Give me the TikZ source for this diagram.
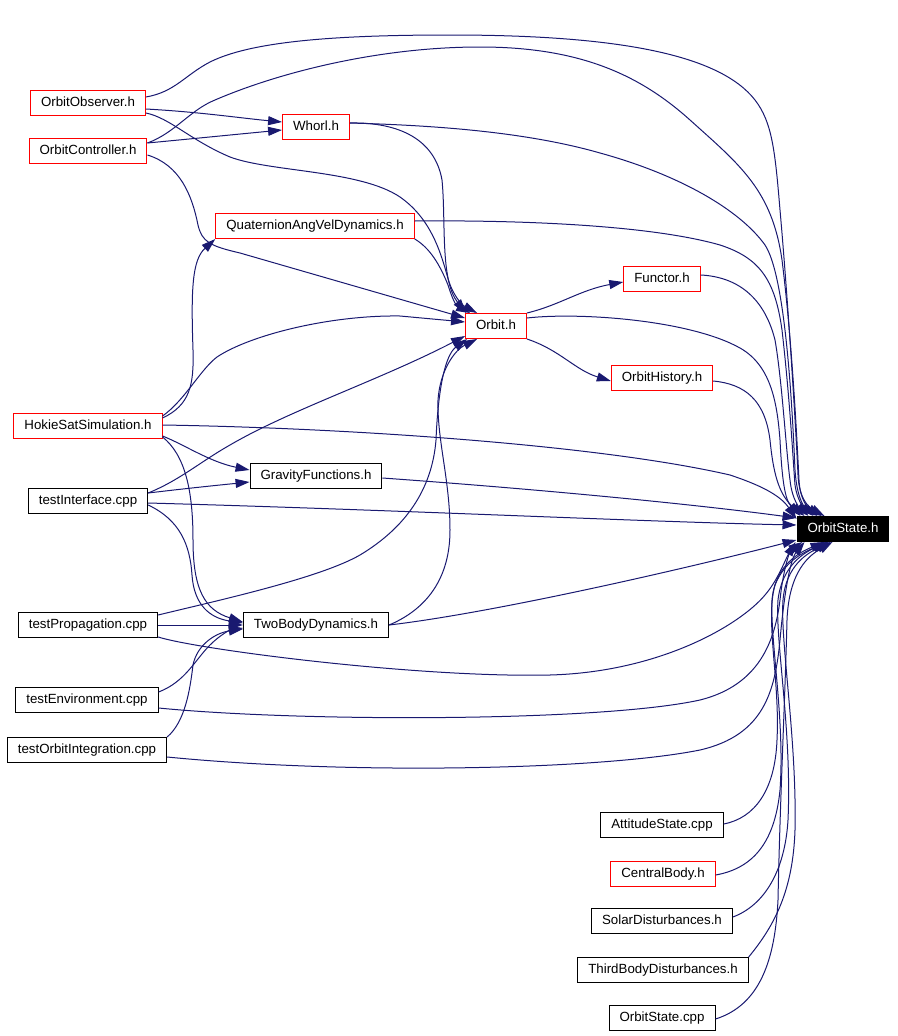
\documentclass[tikz,border=0pt]{standalone}
\usepackage{fontspec}
\setmainfont{Liberation Sans}
\usetikzlibrary{arrows.meta}
\definecolor{edgeblue}{HTML}{191970}
\tikzset{
  file/.style={draw=black, line width=1pt, fill=white, inner xsep=10.5pt, inner ysep=0pt,
    minimum height=25pt, text height=9.5pt, text depth=2.5pt,
    font=\fontsize{13.3}{16}\selectfont},
  redfile/.style={file, draw=red},
  rootfile/.style={file, fill=black, text=white},
  dep/.style={draw=edgeblue, line width=1pt, -{Triangle[length=14pt,width=9pt]}}
}
\begin{document}
\begin{tikzpicture}[x=1pt,y=-1pt]
    \useasboundingbox (0,0) rectangle (897,1036);
    % files
    \node[redfile] (obs) at (88,103) {OrbitObserver.h};
    \node[redfile] (ctrl) at (88,151) {OrbitController.h};
    \node[redfile] (whorl) at (316,127) {Whorl.h};
    \node[redfile] (quat) at (315,226) {QuaternionAngVelDynamics.h};
    \node[redfile] (functor) at (662,279) {Functor.h};
    \node[redfile] (orbit) at (496,326) {Orbit.h};
    \node[redfile] (history) at (662,378) {OrbitHistory.h};
    \node[redfile] (hokie) at (88,426) {HokieSatSimulation.h};
    \node[file] (gravity) at (316,476) {GravityFunctions.h};
    \node[file] (interface) at (88,501) {testInterface.cpp};
    \node[rootfile] (state) at (843,529) {OrbitState.h};
    \node[file] (propagation) at (88,625) {testPropagation.cpp};
    \node[file] (twobody) at (316,625) {TwoBodyDynamics.h};
    \node[file] (environment) at (87,700) {testEnvironment.cpp};
    \node[file] (orbitint) at (87,750) {testOrbitIntegration.cpp};
    \node[file] (attitude) at (662,825) {AttitudeState.cpp};
    \node[redfile] (central) at (663,874) {CentralBody.h};
    \node[file] (solar) at (662,921) {SolarDisturbances.h};
    \node[file] (third) at (663,970) {ThirdBodyDisturbances.h};
    \node[file] (statecpp) at (662,1018) {OrbitState.cpp};

    % top group into OrbitState.h
    \draw[dep] ([yshift=6pt]obs.east) .. controls (175,92) and (185,75) .. (210,62)
       .. controls (250,42) and (330,35) .. (450,35) .. controls (620,35) and (720,55) .. (755,100)
       .. controls (772,122) and (775,150) .. (780,210) .. controls (788,300) and (796,430) .. (798,475)
       .. controls (799,500) and (810,508) .. ([xshift=28pt]state.north west);
    \draw[dep] ([yshift=8pt]ctrl.east) .. controls (175,133) and (190,110) .. (215,100)
       .. controls (280,72) and (380,47) .. (480,47) .. controls (580,47) and (640,75) .. (690,120)
       .. controls (740,165) and (772,190) .. (782,260) .. controls (792,340) and (797,440) .. (799,480)
       .. controls (800,500) and (808,508) .. ([xshift=25pt]state.north west);
    \draw[dep] ([yshift=4pt]whorl.east) .. controls (420,125) and (520,130) .. (600,153)
       .. controls (680,175) and (740,210) .. (765,245) .. controls (785,275) and (792,400) .. (795,470)
       .. controls (797,500) and (805,508) .. ([xshift=21pt]state.north west);
    \draw[dep] ([yshift=5pt]quat.east) .. controls (520,220) and (650,225) .. (720,245)
       .. controls (760,258) and (775,280) .. (782,330) .. controls (790,400) and (793,460) .. (795,485)
       .. controls (797,500) and (804,508) .. ([xshift=17pt]state.north west);
    \draw[dep] ([yshift=4pt]functor.east) .. controls (740,277) and (765,300) .. (775,340)
       .. controls (782,380) and (786,450) .. (790,480) .. controls (792,500) and (800,508) .. ([xshift=12pt]state.north west);
    \draw[dep] ([yshift=8pt]orbit.east) .. controls (580,312) and (690,320) .. (740,348)
       .. controls (770,365) and (777,400) .. (780,440) .. controls (782,480) and (785,500) .. ([xshift=4pt]state.north west);
    \draw[dep] ([yshift=-3pt]history.east) .. controls (745,384) and (765,400) .. (770,440)
       .. controls (773,470) and (778,495) .. ([xshift=8pt]state.north west);

    % OrbitObserver.h, OrbitController.h
    \draw[dep] ([yshift=-6pt]obs.east) .. controls (200,112) and (240,118) .. ([yshift=5pt]whorl.west);
    \draw[dep] ([yshift=8pt]ctrl.east) .. controls (200,138) and (240,134) .. ([yshift=-3pt]whorl.west);
    \draw[dep] ([yshift=-10pt]obs.east) .. controls (170,118) and (190,140) .. (230,157)
       .. controls (270,172) and (360,170) .. (400,197) .. controls (430,218) and (440,250) .. (447,275)
       .. controls (452,295) and (462,305) .. ([xshift=12pt]orbit.north west);
    \draw[dep] ([yshift=-4pt]ctrl.east) .. controls (180,165) and (192,195) .. (198,225)
       .. controls (202,242) and (210,246) .. (240,253) -- ([yshift=8pt]orbit.west);

    % into Orbit.h and out of it
    \draw[dep] ([yshift=4pt]whorl.east) .. controls (400,122) and (435,140) .. (442,180)
       .. controls (446,220) and (440,280) .. ([xshift=1pt]orbit.north west);
    \draw[dep] (quat.south east) .. controls (430,248) and (440,265) .. (448,285)
       .. controls (452,298) and (456,306) .. ([xshift=5pt]orbit.north west);
    \draw[dep] (orbit.north east) .. controls (560,305) and (580,290) .. ([yshift=-3pt]functor.west);
    \draw[dep] (orbit.south east) .. controls (560,350) and (575,370) .. ([yshift=-3pt]history.west);

    % HokieSatSimulation.h
    \draw[dep] ([yshift=10pt]hokie.east) .. controls (185,400) and (200,370) .. (217,357)
       .. controls (250,335) and (330,315) .. (400,316) -- ([yshift=4pt]orbit.west);
    \draw[dep] ([yshift=8pt]hokie.east) .. controls (190,405) and (194,385) .. (193,350)
       .. controls (191,290) and (192,260) .. (quat.south west);
    \draw[dep] ([yshift=1pt]hokie.east) .. controls (350,428) and (600,445) .. (730,475)
       .. controls (760,485) and (780,495) .. ([yshift=-3pt]state.north west);
    \draw[dep] ([yshift=-10pt]hokie.east) .. controls (185,445) and (210,462) .. ([yshift=6pt]gravity.west);
    \draw[dep] ([yshift=-11pt]hokie.east) .. controls (185,455) and (193,490) .. (193,540)
       .. controls (193,590) and (205,610) .. ([yshift=3pt]twobody.west);

    % testInterface.cpp
    \draw[dep] ([yshift=8pt]interface.east) .. controls (190,488) and (220,485) .. ([yshift=-6pt]gravity.west);
    \draw[dep] ([yshift=8pt]interface.east) .. controls (180,480) and (200,462) .. (230,445)
       .. controls (290,410) and (380,380) .. ([yshift=-10pt]orbit.west);
    \draw[dep] ([yshift=-2pt]interface.east) .. controls (400,510) and (650,522) .. ([yshift=4pt]state.west);
    \draw[dep] ([yshift=-4pt]interface.east) .. controls (180,520) and (190,545) .. (192,575)
       .. controls (194,605) and (210,618) .. ([yshift=2pt]twobody.west);
    \draw[dep] ([yshift=-2pt]gravity.east) .. controls (550,490) and (700,505) .. ([yshift=11pt]state.west);

    % testPropagation.cpp, TwoBodyDynamics.h
    \draw[dep] (twobody.east) .. controls (420,612) and (450,585) .. (450,530)
       .. controls (450,480) and (437,440) .. (438,400) .. controls (440,370) and (455,350) .. ([xshift=12pt]orbit.south west);
    \draw[dep] ([yshift=10pt]propagation.east) .. controls (220,600) and (320,578) .. (360,555)
       .. controls (405,528) and (432,490) .. (436,440) .. controls (438,390) and (445,355) .. ([xshift=2pt]orbit.south west);
    \draw[dep] (propagation) -- (twobody);
    \draw[dep] ([yshift=-12pt]propagation.east) .. controls (200,650) and (420,678) .. (550,675)
       .. controls (660,672) and (740,625) .. (765,595) .. controls (778,580) and (785,560) .. ([xshift=-1pt]state.south west);
    \draw[dep] (twobody.east) .. controls (500,612) and (700,565) .. ([yshift=2pt]state.south west);

    % testEnvironment.cpp, testOrbitIntegration.cpp
    \draw[dep] ([yshift=8pt]environment.east) .. controls (185,682) and (195,660) .. (210,645)
       .. controls (220,635) and (230,630) .. ([yshift=-3pt]twobody.west);
    \draw[dep] ([yshift=-8pt]environment.east) .. controls (300,722) and (600,722) .. (700,700)
       .. controls (760,685) and (775,640) .. (780,600) .. controls (783,570) and (790,550) .. ([xshift=6pt]state.south west);
    \draw[dep] (orbitint.north east) .. controls (185,722) and (190,690) .. (193,665)
       .. controls (197,645) and (215,633) .. ([yshift=-4pt]twobody.west);
    \draw[dep] ([yshift=-7pt]orbitint.east) .. controls (350,775) and (600,770) .. (700,750)
       .. controls (765,735) and (775,690) .. (780,640) .. controls (784,595) and (790,560) .. ([xshift=8pt]state.south west);

    % bottom group into OrbitState.h
    \draw[dep] ([yshift=1pt]attitude.east) .. controls (755,818) and (775,790) .. (777,740)
       .. controls (780,680) and (765,620) .. (775,585) .. controls (785,560) and (805,552) .. ([xshift=30pt]state.south west);
    \draw[dep] ([yshift=-1pt]central.east) .. controls (755,868) and (775,840) .. (780,790)
       .. controls (785,720) and (770,640) .. (772,600) .. controls (775,565) and (800,552) .. ([xshift=28pt]state.south west);
    \draw[dep] ([yshift=4pt]solar.east) .. controls (765,905) and (785,870) .. (788,820)
       .. controls (792,730) and (775,640) .. (778,600) .. controls (782,565) and (805,552) .. ([xshift=32pt]state.south west);
    \draw[dep] (third.north east) .. controls (775,925) and (793,890) .. (795,830)
       .. controls (797,740) and (780,640) .. (783,600) .. controls (786,565) and (808,553) .. ([xshift=34pt]state.south west);
    \draw[dep] ([yshift=-1pt]statecpp.east) .. controls (760,1005) and (775,960) .. (778,900)
       .. controls (780,800) and (785,700) .. (787,620) .. controls (789,570) and (810,555) .. ([xshift=36pt]state.south west);
\end{tikzpicture}
\end{document}
